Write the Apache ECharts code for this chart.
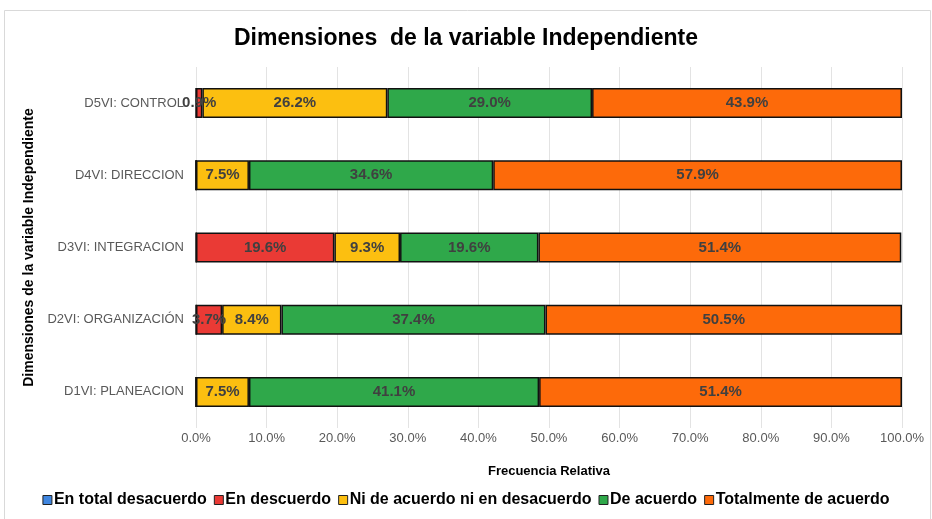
<!DOCTYPE html>
<html>
<head>
<meta charset="utf-8">
<script src="https://cdn.jsdelivr.net/npm/echarts@6/dist/echarts.min.js"></script>
<style>
  html, body { margin: 0; padding: 0; background: #ffffff; }
  #chart { width: 932px; height: 519px; }
</style>
</head>
<body>
<div id="chart"></div>
<script>
  // categorias (de abajo hacia arriba)
  var categorias = ['D1VI: PLANEACION', 'D2VI: ORGANIZACIÓN', 'D3VI: INTEGRACION', 'D4VI: DIRECCION', 'D5VI: CONTROL']
  var totalDesacuerdo = [0, 0, 0, 0, 0]
  var enDescuerdo = [0, 3.7, 19.6, 0, 0.9]
  var niAcuerdo = [7.5, 8.4, 9.3, 7.5, 26.2]
  var deAcuerdo = [41.1, 37.4, 19.6, 34.6, 29.0]
  var totalmente = [51.4, 50.5, 51.4, 57.9, 43.9]
  var ticks = [0, 10, 20, 30, 40, 50, 60, 70, 80, 90, 100]

  var fuente = '"Liberation Sans", Arial, sans-serif'

  var chart = echarts.init(document.getElementById('chart'))

  function serie(nombre, datos, color) {
    return {
      name: nombre,
      type: 'bar',
      stack: 'total',
      barWidth: 30,
      data: datos,
      itemStyle: { color: color, borderColor: '#111111', borderWidth: 1.5 },
      label: {
        show: true,
        position: 'inside',
        color: '#404040',
        fontFamily: fuente,
        fontWeight: 'bold',
        fontSize: 15,
        formatter: function (p) {
          return p.value > 0 ? p.value.toFixed(1) + '%' : ''
        }
      }
    }
  }

  var option = {
    backgroundColor: '#ffffff',
    animation: false,
    graphic: [{
      type: 'rect',
      shape: { x: 4.5, y: 10.5, width: 926, height: 520 },
      style: { fill: 'none', stroke: '#d9d9d9', lineWidth: 1 }
    }],
    title: {
      text: 'Dimensiones  de la variable Independiente',
      left: 'center',
      top: 22,
      textStyle: { fontFamily: fuente, fontSize: 23, fontWeight: 'bold', color: '#000000' }
    },
    legend: {
      bottom: 6,
      left: 'center',
      itemWidth: 9,
      itemHeight: 9,
      itemGap: 7,
      icon: 'rect',
      itemStyle: { borderColor: '#222222', borderWidth: 1 },
      textStyle: { fontFamily: fuente, fontSize: 16, fontWeight: 'bold', color: '#000000', padding: [0, 0, 0, -3] },
      data: ['En total desacuerdo', 'En descuerdo', 'Ni de acuerdo ni en desacuerdo', 'De acuerdo', 'Totalmente de acuerdo']
    },
    grid: { left: 196, right: 30, top: 67, bottom: 91, containLabel: false },
    xAxis: {
      type: 'value',
      min: 0,
      max: 100,
      interval: 10,
      name: 'Frecuencia Relativa',
      nameLocation: 'middle',
      nameGap: 37,
      nameTextStyle: { fontFamily: fuente, fontSize: 13, fontWeight: 'bold', color: '#000000' },
      axisLine: { show: false },
      axisTick: { show: false },
      axisLabel: {
        color: '#595959',
        fontFamily: fuente,
        fontSize: 13,
        margin: 4,
        formatter: function (v) { return ticks.indexOf(v) >= 0 ? v.toFixed(1) + '%' : '' }
      },
      splitLine: { lineStyle: { color: '#e3e3e3', width: 1 } }
    },
    yAxis: {
      type: 'category',
      data: categorias,
      name: 'Dimensiones de la variable Independiente',
      nameLocation: 'middle',
      nameRotate: 90,
      nameGap: 155,
      nameTextStyle: { fontFamily: fuente, fontSize: 14, fontWeight: 'bold', color: '#000000' },
      axisLine: { show: false },
      axisTick: { show: false },
      axisLabel: { color: '#595959', fontFamily: fuente, fontSize: 13, margin: 12 }
    },
    series: [
      serie('En total desacuerdo', totalDesacuerdo, '#3f86e0'),
      serie('En descuerdo', enDescuerdo, '#ea3a35'),
      serie('Ni de acuerdo ni en desacuerdo', niAcuerdo, '#fcbf10'),
      serie('De acuerdo', deAcuerdo, '#2fa84a'),
      serie('Totalmente de acuerdo', totalmente, '#fd6a0a')
    ]
  }

  chart.setOption(option)
</script>
</body>
</html>
